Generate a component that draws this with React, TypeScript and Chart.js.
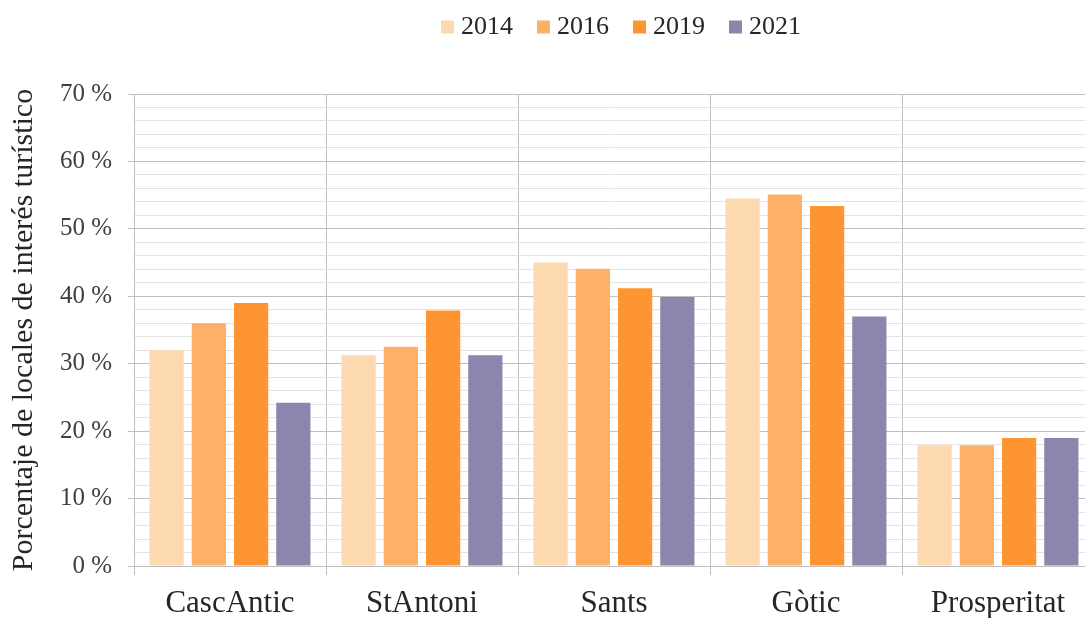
import React, { useEffect, useRef } from "react";
import { Chart, registerables } from "chart.js";

Chart.register(...registerables);

const categories = ["CascAntic", "StAntoni", "Sants", "Gòtic", "Prosperitat"];
const seriesLabels = ["2014", "2016", "2019", "2021"];
const values2014 = [32, 31.25, 45, 54.5, 17.9];
const values2016 = [36, 32.5, 44.1, 55.1, 17.9];
const values2019 = [39, 37.9, 41.2, 53.4, 19];
const values2021 = [24.2, 31.25, 39.9, 37, 19];
const seriesColors = ["#FDD9B1", "#FDB168", "#FD9632", "#8D85AE"];
const yMin = 0;
const yMax = 70;
const yStep = 2;
const yLabelEvery = 10;
const yTitle = "Porcentaje de locales de interés turístico";

const FONT = "'Liberation Serif', 'Times New Roman', serif";

const legendShift = {
  id: "legendShift",
  afterLayout(chart: any) {
    if (chart.legend) {
      chart.legend.left += 10;
      chart.legend.right += 10;
    }
  },
};

export default function App() {
  const ref = useRef<HTMLCanvasElement | null>(null);

  useEffect(() => {
    if (!ref.current) return;
    const allValues = [values2014, values2016, values2019, values2021];
    const chart = new Chart(ref.current, {
      type: "bar",
      data: {
        labels: categories,
        datasets: seriesLabels.map((label, i) => ({
          label,
          data: allValues[i],
          backgroundColor: seriesColors[i],
          borderWidth: 0,
          categoryPercentage: 0.88,
          barPercentage: 0.81,
        })),
      },
      plugins: [legendShift],
      options: {
        responsive: false,
        animation: false,
        devicePixelRatio: 1,
        layout: { padding: { top: -16, left: 0, right: 6, bottom: 0 } },
        plugins: {
          tooltip: { enabled: false },
          legend: {
            position: "top",
            fullSize: false,
            labels: {
              usePointStyle: true,
              pointStyle: "rect",
              boxWidth: 1,
              boxHeight: 13,
              padding: 30,
              color: "#262626",
              font: { family: FONT, size: 26 },
            },
          },
          title: {
            display: true,
            text: "",
            weight: 500,
            padding: 0,
            font: { size: 44, lineHeight: 1 },
          },
        },
        scales: {
          x: {
            afterFit: (s: any) => {
              s.height = 52;
            },
            grid: {
              color: "#BFBFBF",
              tickLength: 9,
              offset: true,
              tickColor: "#BFBFBF",
            },
            border: { color: "#BFBFBF" },
            ticks: {
              color: "#262626",
              padding: 10,
              font: { family: FONT, size: 31 },
            },
          },
          y: {
            min: yMin,
            max: yMax,
            afterFit: (s: any) => {
              s.width = 134;
            },
            border: { color: "#BFBFBF" },
            grid: {
              tickLength: 6,
              color: (ctx: any) =>
                ctx.tick && ctx.tick.value % yLabelEvery === 0 ? "#BFBFBF" : "#E3E3E3",
              tickColor: (ctx: any) =>
                ctx.tick && ctx.tick.value % yLabelEvery === 0 ? "#BFBFBF" : "rgba(0,0,0,0)",
            },
            ticks: {
              stepSize: yStep,
              autoSkip: false,
              padding: 16,
              color: "#404040",
              font: { family: FONT, size: 25 },
              callback: (v: any) => (Number(v) % yLabelEvery === 0 ? `${v} %` : ""),
            },
            title: {
              display: true,
              text: yTitle,
              color: "#262626",
              padding: { top: 6, bottom: 0 },
              font: { family: FONT, size: 30, lineHeight: 1.2 },
            },
          },
        },
      },
    });
    return () => chart.destroy();
  }, []);

  return (
    <div
      style={{
        position: "fixed",
        left: 0,
        top: 0,
        width: 1085,
        height: 618,
        overflow: "hidden",
        background: "#fff",
      }}
    >
      <canvas ref={ref} width={1100} height={618} style={{ width: 1100, height: 618, display: "block" }} />
    </div>
  );
}
